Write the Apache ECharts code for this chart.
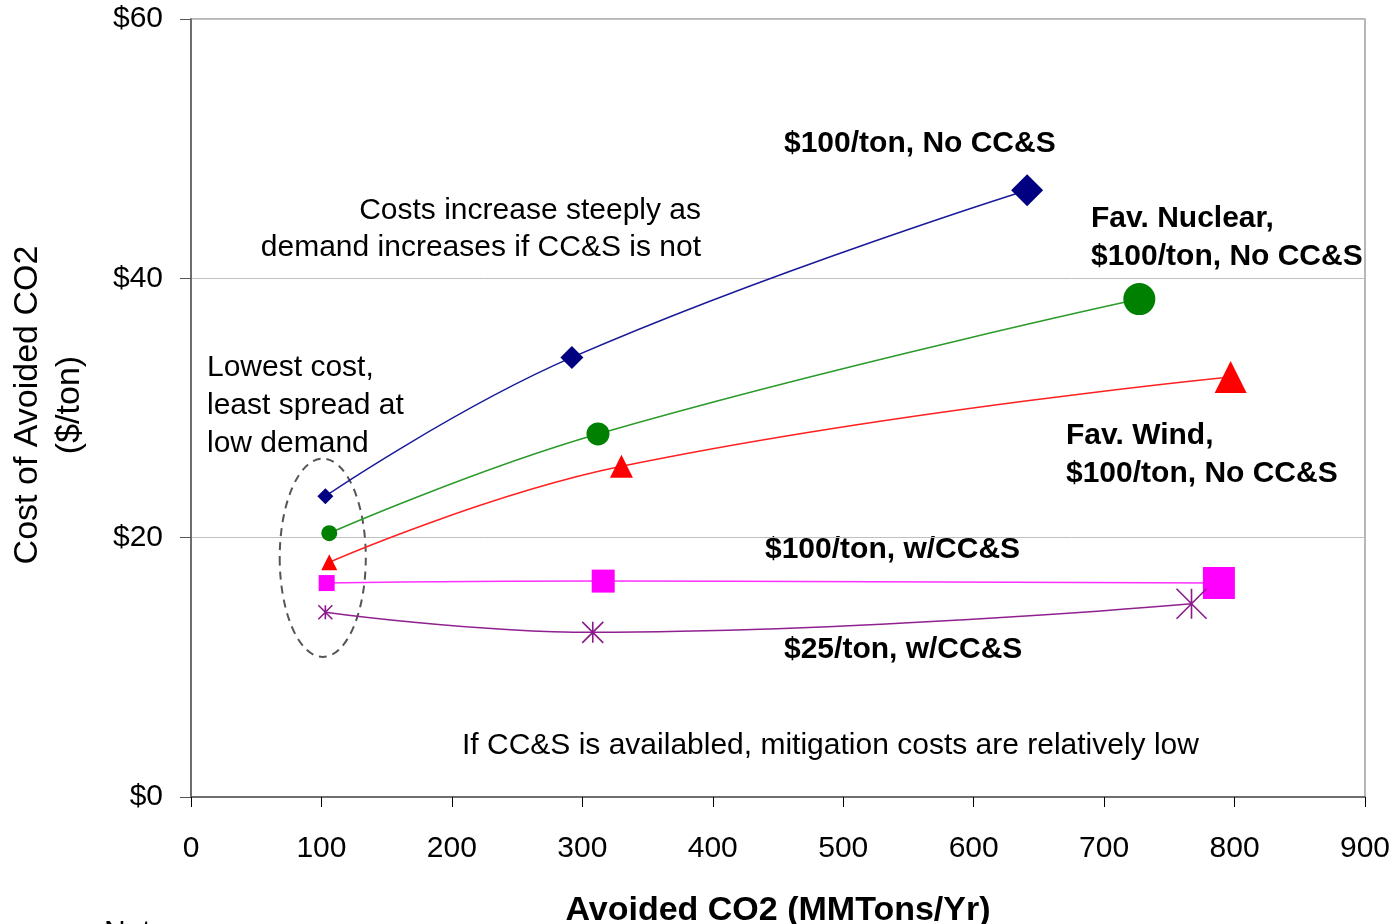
<!DOCTYPE html>
<html>
<head>
<meta charset="utf-8">
<script src="https://cdn.jsdelivr.net/npm/echarts@6/dist/echarts.min.js"></script>
<style>
  html, body { margin: 0; padding: 0; background: #fff; }
  #chart { width: 1397px; height: 924px; }
</style>
</head>
<body>
<div id="chart"></div>
<script>
// Avoided CO2 (MMTons/Yr) and cost of avoided CO2 ($/ton) for each scenario
const noCcsX      = [103, 292, 641];
const noCcsY      = [23.2, 33.9, 46.8];
const nuclearX    = [106, 312, 727];
const nuclearY    = [20.35, 28.0, 38.4];
const windX       = [106, 330, 797];
const windY       = [18.1, 25.5, 32.4];
const ccs100X     = [104, 316, 788];
const ccs100Y     = [16.5, 16.65, 16.5];
const ccs25X      = [103, 308, 767];
const ccs25Y      = [14.25, 12.7, 14.9];

const xTicks = { min: 0, max: 900, interval: 100 };
const yTicks = { min: 0, max: 60, interval: 20 };

// marker sizes grow with demand level
const markerSizes = [16, 23, 32];
const starSizes = [14, 21, 30];

const FONT = "'Liberation Sans', Arial, sans-serif";

function points(xs, ys, sizes) {
  return xs.map((x, i) => ({ value: [x, ys[i]], symbolSize: sizes[i] }));
}

const asterisk = 'path://M0,0L10,10M10,0L0,10M5,0L5,10';

function lineSeries(name, xs, ys, symbol, color, lineColor, sizes, extraItem) {
  return {
    name: name,
    type: 'line',
    smooth: 0.45,
    symbol: symbol,
    data: points(xs, ys, sizes),
    lineStyle: { color: lineColor, width: 1.5 },
    itemStyle: Object.assign({ color: color }, extraItem || {}),
    z: 3
  };
}

const chart = echarts.init(document.getElementById('chart'));

const option = {
  backgroundColor: '#fff',
  animation: false,
  grid: {
    left: 191, right: 32, top: 19, bottom: 127,
    outerBoundsMode: 'none',
    containLabel: false,
    show: true, borderColor: '#a0a0a0', borderWidth: 1.5
  },
  xAxis: {
    type: 'value',
    min: xTicks.min, max: xTicks.max, interval: xTicks.interval,
    name: 'Avoided CO2 (MMTons/Yr)',
    nameLocation: 'middle',
    nameGap: 97,
    nameTextStyle: { fontFamily: FONT, fontSize: 34, fontWeight: 'bold', color: '#000' },
    axisLine: { show: true, lineStyle: { color: '#555', width: 1.5 } },
    axisTick: { show: true, length: 10, lineStyle: { color: '#000' } },
    axisLabel: { margin: 37, fontFamily: FONT, fontSize: 30, color: '#000' },
    splitLine: { show: false }
  },
  yAxis: {
    type: 'value',
    min: yTicks.min, max: yTicks.max, interval: yTicks.interval,
    axisLine: { show: true, lineStyle: { color: '#555', width: 1.5 } },
    axisTick: { show: true, length: 11, lineStyle: { color: '#555' } },
    axisLabel: { margin: 28, fontFamily: FONT, fontSize: 30, color: '#000',
      formatter: v => '$' + v },
    splitLine: { show: true, lineStyle: { color: '#c0c0c0', width: 1 } }
  },
  series: [
    lineSeries('$100/ton, No CC&S', noCcsX, noCcsY, 'diamond', '#000080', '#1a1a9a', markerSizes),
    lineSeries('Fav. Nuclear, $100/ton, No CC&S', nuclearX, nuclearY, 'circle', '#008000', '#2a9a2a', markerSizes),
    lineSeries('Fav. Wind, $100/ton, No CC&S', windX, windY, 'triangle', '#ff0000', '#ff2020', markerSizes),
    lineSeries('$100/ton, w/CC&S', ccs100X, ccs100Y, 'rect', '#ff00ff', '#ff30ff', markerSizes),
    lineSeries('$25/ton, w/CC&S', ccs25X, ccs25Y, asterisk, 'rgba(0,0,0,0)', '#902090', starSizes,
      { borderColor: '#8a1a8a', borderWidth: 1.6 }),
    {
      // dashed ellipse grouping the low-demand points
      type: 'custom',
      data: [[101, 18.45]],
      z: 2,
      silent: true,
      renderItem: function (params, api) {
        const c = api.coord([101, 18.45]);
        const e = api.coord([134, 26.1]);
        const rx = e[0] - c[0];
        const ry = c[1] - e[1];
        const d = 'M' + (c[0] - rx) + ',' + c[1] +
          'A' + rx + ',' + ry + ' 0 1 0 ' + (c[0] + rx) + ',' + c[1] +
          'A' + rx + ',' + ry + ' 0 1 0 ' + (c[0] - rx) + ',' + c[1] + 'Z';
        return {
          type: 'path',
          shape: { pathData: d },
          style: { fill: 'none', stroke: '#555', lineWidth: 2, lineDash: [8, 6] }
        };
      }
    }
  ],
  graphic: [
    { type: 'text', x: 28, y: 405, rotation: Math.PI / 2,
      style: { text: 'Cost of Avoided CO2', font: '34px ' + FONT, fill: '#000', align: 'center', verticalAlign: 'middle' } },
    { type: 'text', x: 70, y: 405, rotation: Math.PI / 2,
      style: { text: '($/ton)', font: '34px ' + FONT, fill: '#000', align: 'center', verticalAlign: 'middle' } },

    { type: 'text', x: 784, y: 144,
      style: { text: '$100/ton, No CC&S', font: 'bold 30px ' + FONT, fill: '#000', verticalAlign: 'middle' } },
    { type: 'text', x: 701, y: 192,
      style: { text: 'Costs increase steeply as\ndemand increases if CC&S is not', font: '30px ' + FONT,
        fill: '#000', align: 'right', lineHeight: 37 } },
    { type: 'text', x: 1091, y: 200,
      style: { text: 'Fav. Nuclear,\n$100/ton, No CC&S', font: 'bold 30px ' + FONT, fill: '#000', lineHeight: 38 } },
    { type: 'text', x: 207, y: 349,
      style: { text: 'Lowest cost,\nleast spread at\nlow demand', font: '30px ' + FONT, fill: '#000', lineHeight: 38 } },
    { type: 'text', x: 1066, y: 417,
      style: { text: 'Fav. Wind,\n$100/ton, No CC&S', font: 'bold 30px ' + FONT, fill: '#000', lineHeight: 38 } },
    { type: 'text', x: 765, y: 550,
      style: { text: '$100/ton, w/CC&S', font: 'bold 30px ' + FONT, fill: '#000', verticalAlign: 'middle' } },
    { type: 'text', x: 784, y: 650,
      style: { text: '$25/ton, w/CC&S', font: 'bold 30px ' + FONT, fill: '#000', verticalAlign: 'middle' } },
    { type: 'text', x: 462, y: 746,
      style: { text: 'If CC&S is availabled, mitigation costs are relatively low', font: '30px ' + FONT,
        fill: '#000', verticalAlign: 'middle' } },
    { type: 'text', x: 104, y: 918,
      style: { text: 'Note:', font: '30px ' + FONT, fill: '#000' } }
  ]
};

chart.setOption(option);
</script>
</body>
</html>
